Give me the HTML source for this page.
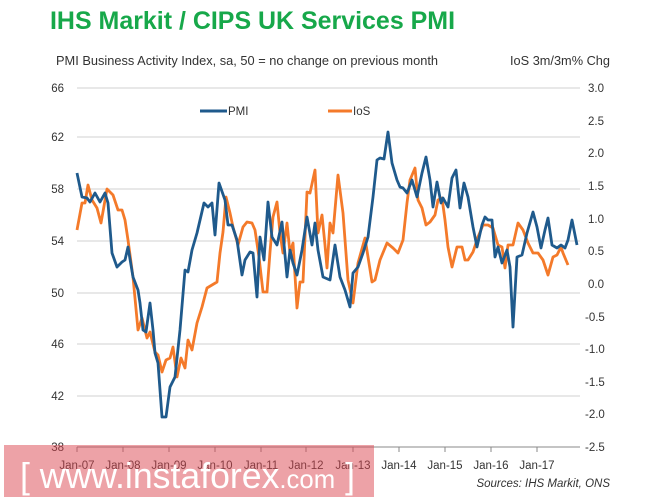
<!DOCTYPE html>
<html><head><style>
body{margin:0;background:#fff;width:665px;height:500px;overflow:hidden;font-family:"Liberation Sans",sans-serif;position:relative}
</style></head><body>
<svg width="665" height="500" style="position:absolute;left:0;top:0" font-family="Liberation Sans, sans-serif">
<text x="50" y="29" font-size="25" font-weight="bold" fill="#17a84a" textLength="405" lengthAdjust="spacingAndGlyphs">IHS Markit / CIPS UK Services PMI</text>
<text x="56" y="65" font-size="12.5" fill="#333" textLength="382" lengthAdjust="spacingAndGlyphs">PMI Business Activity Index, sa, 50 = no change on previous month</text>
<text x="510" y="65" font-size="12.5" fill="#333" textLength="100" lengthAdjust="spacingAndGlyphs">IoS 3m/3m% Chg</text>
<g stroke="#d0d0d0" stroke-width="1">
<line x1="77" x2="580" y1="88" y2="88"/><line x1="77" x2="580" y1="137" y2="137"/>
<line x1="77" x2="580" y1="189" y2="189"/><line x1="77" x2="580" y1="241" y2="241"/>
<line x1="77" x2="580" y1="293" y2="293"/><line x1="77" x2="580" y1="344" y2="344"/>
<line x1="77" x2="580" y1="396" y2="396"/>
</g>
<line x1="77" x2="580" y1="447" y2="447" stroke="#888"/>
<g stroke="#888"><line x1="77" x2="77" y1="447" y2="452"/><line x1="123" x2="123" y1="447" y2="452"/><line x1="169" x2="169" y1="447" y2="452"/><line x1="215" x2="215" y1="447" y2="452"/><line x1="261" x2="261" y1="447" y2="452"/><line x1="306" x2="306" y1="447" y2="452"/><line x1="353" x2="353" y1="447" y2="452"/><line x1="399" x2="399" y1="447" y2="452"/><line x1="445" x2="445" y1="447" y2="452"/><line x1="491" x2="491" y1="447" y2="452"/><line x1="537" x2="537" y1="447" y2="452"/></g>
<g font-size="11.5" fill="#333" text-anchor="end">
<text x="64" y="92">66</text><text x="64" y="141">62</text><text x="64" y="193">58</text><text x="64" y="245">54</text><text x="64" y="297">50</text><text x="64" y="348">46</text><text x="64" y="400">42</text><text x="64" y="451">38</text>
</g>
<g font-size="11.5" fill="#333">
<text x="588" y="92">3.0</text><text x="588" y="125">2.5</text><text x="588" y="157">2.0</text><text x="588" y="190">1.5</text><text x="588" y="223">1.0</text><text x="588" y="255">0.5</text><text x="588" y="288">0.0</text><text x="585" y="321">-0.5</text><text x="585" y="353">-1.0</text><text x="585" y="386">-1.5</text><text x="585" y="418">-2.0</text><text x="585" y="451">-2.5</text>
</g>
<g font-size="11.5" fill="#333" text-anchor="middle">
<text x="77" y="469">Jan-07</text><text x="123" y="469">Jan-08</text><text x="169" y="469">Jan-09</text><text x="215" y="469">Jan-10</text><text x="261" y="469">Jan-11</text><text x="306" y="469">Jan-12</text><text x="353" y="469">Jan-13</text><text x="399" y="469">Jan-14</text><text x="445" y="469">Jan-15</text><text x="491" y="469">Jan-16</text><text x="537" y="469">Jan-17</text>
</g>
<text x="610" y="487" font-size="11.5" font-style="italic" fill="#333" text-anchor="end">Sources: IHS Markit, ONS</text>
<line x1="200" x2="227" y1="111" y2="111" stroke="#1f5a8c" stroke-width="3"/>
<text x="228" y="115" font-size="11.5" fill="#333">PMI</text>
<line x1="328" x2="352" y1="111" y2="111" stroke="#f47a2a" stroke-width="3"/>
<text x="353" y="115" font-size="11.5" fill="#333">IoS</text>
<polyline fill="none" stroke="#f47a2a" stroke-width="2.8" stroke-linejoin="round" points="77,230 82,203 85,203 88,185 92,200 97,208 101,223 107,189 113,195 118,210 122,210 125,220 128,240 133,277 138,330 142,318 147,338 150,332 155,352 158,355 162,372 166,360 170,358 173,347 177,377 181,358 185,368 188,340 192,350 197,323 202,307 207,288 212,285 217,282 220,253 223,232 226,197 230,213 233,227 238,245 243,227 247,222 252,223 255,230 259,257 263,292 267,292 270,252 273,217 277,202 280,233 283,253 287,223 290,253 293,243 297,308 300,282 303,282 307,192 310,193 315,170 318,233 322,215 325,245 327,268 330,223 333,233 338,175 343,213 348,280 353,303 358,263 365,238 372,282 375,280 380,260 387,243 393,248 398,253 403,240 407,203 410,180 415,168 418,200 422,208 426,225 430,222 435,215 438,200 442,198 445,220 448,247 452,267 457,247 462,247 465,260 468,260 473,252 478,237 483,225 488,225 493,228 498,245 502,247 505,268 508,245 513,245 518,223 523,230 528,243 533,253 538,253 543,260 548,275 553,257 557,255 561,247 563,253 568,265"/>
<polyline fill="none" stroke="#1f5a8c" stroke-width="2.8" stroke-linejoin="round" points="77,173 82,197 87,198 90,202 95,193 100,202 105,193 108,203 112,253 117,267 122,262 125,260 128,247 133,277 138,290 140,303 143,330 146,332 150,303 153,330 155,353 158,363 162,417 166,417 170,387 175,377 180,330 185,270 188,272 192,250 197,233 204,203 208,207 212,203 215,235 219,183 225,200 228,225 232,225 237,240 242,275 245,260 250,252 253,253 257,297 260,237 264,260 268,202 272,237 277,245 282,222 287,277 290,250 293,263 297,275 302,250 307,217 312,245 315,223 318,250 323,277 330,280 335,245 340,277 345,290 350,307 353,273 358,267 363,253 368,237 373,197 377,160 380,158 384,159 388,132 392,163 397,180 400,187 403,188 407,193 412,180 417,197 422,173 426,157 430,180 433,207 437,182 441,203 443,198 448,207 452,178 456,170 460,208 464,183 468,197 473,227 477,247 482,225 485,217 488,220 492,220 495,257 498,247 502,263 507,250 510,267 513,327 517,257 522,255 527,233 533,212 537,227 541,248 545,230 548,218 552,245 557,248 561,245 565,248 568,240 572,220 577,245"/>
<rect x="4" y="445" width="370" height="52" fill="rgba(220,70,80,0.5)"/>
<text x="20" y="488" font-size="36" fill="#fff" textLength="335" lengthAdjust="spacingAndGlyphs">[ www.instaforex<tspan font-size="26">.com</tspan> ]</text>
</svg>
</body></html>
